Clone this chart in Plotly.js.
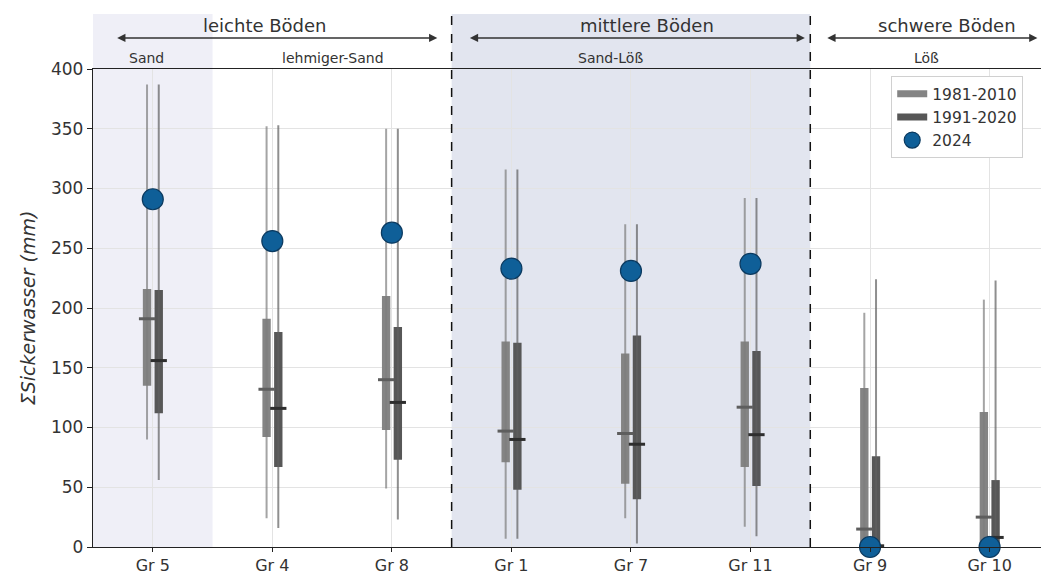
<!DOCTYPE html>
<html>
<head>
<meta charset="utf-8">
<script src="https://cdn.plot.ly/plotly-3.0.1.min.js"></script>
<style>html,body{margin:0;padding:0;background:#fff;} #chart{width:1041px;height:576px;}</style>
</head>
<body>
<div id="chart"></div>
<script>
const categories = ['Gr 5','Gr 4','Gr 8','Gr 1','Gr 7','Gr 11','Gr 9','Gr 10'];
const seriesNames = ['1981-2010','1991-2020','2024'];
// 1981-2010
const p1Min = [90, 24, 49, 7, 24, 17, 0, 0];
const p1Q1  = [135, 92, 98, 71, 53, 67, 0, 0];
const p1Med = [191, 132, 140, 97, 95, 117, 15, 25];
const p1Q3  = [216, 191, 210, 172, 162, 172, 133, 113];
const p1Max = [387, 352, 350, 316, 270, 292, 196, 207];
// 1991-2020
const p2Min = [56, 16, 23, 7, 3, 9, 0, 0];
const p2Q1  = [112, 67, 73, 48, 40, 51, 0, 0];
const p2Med = [156, 116, 121, 90, 86, 94, 1, 8];
const p2Q3  = [215, 180, 184, 171, 177, 164, 76, 56];
const p2Max = [387, 353, 350, 316, 270, 292, 224, 223];
// 2024
const obs2024 = [291, 256, 263, 233, 231, 237, 0, 0];

const soilGroups = ['leichte Böden','mittlere Böden','schwere Böden'];
const soilTypes = ['Sand','lehmiger-Sand','Sand-Löß','Löß'];

const FONT = 'DejaVu Sans, sans-serif';
const idx = categories.map((_, i) => i);
const OFF1 = -0.048, OFF2 = 0.05, BW = 0.07, MW = 0.068;

function whisk(off, lo, hi) {
  const x = [], y = [];
  idx.forEach(i => { x.push(i + off, i + off, null); y.push(lo[i], hi[i], null); });
  return {x, y};
}
function medians(off, med) {
  const x = [], y = [];
  idx.forEach(i => { x.push(i + off - MW, i + off + MW, null); y.push(med[i], med[i], null); });
  return {x, y};
}
const C1 = '#848484', C2 = '#575757';
const w1 = whisk(OFF1, p1Min, p1Max), w2 = whisk(OFF2, p2Min, p2Max);
const m1 = medians(OFF1, p1Med), m2 = medians(OFF2, p2Med);

const traces = [
  {type:'scatter', mode:'lines', x:w1.x, y:w1.y, line:{color:'rgba(125,125,125,0.7)', width:2}, showlegend:false, hoverinfo:'skip'},
  {type:'scatter', mode:'lines', x:w2.x, y:w2.y, line:{color:'rgba(95,95,95,0.7)', width:2}, showlegend:false, hoverinfo:'skip'},
  {type:'bar', x:idx.map(i => i + OFF1), base:p1Q1, y:idx.map(i => p1Q3[i] - p1Q1[i]), width:BW,
   marker:{color:C1, line:{width:0}}, showlegend:false, hoverinfo:'skip'},
  {type:'bar', x:idx.map(i => i + OFF2), base:p2Q1, y:idx.map(i => p2Q3[i] - p2Q1[i]), width:BW,
   marker:{color:C2, line:{width:0}}, showlegend:false, hoverinfo:'skip'},
  {type:'scatter', mode:'lines', x:m1.x, y:m1.y, line:{color:'#5e5e5e', width:3}, showlegend:false, hoverinfo:'skip'},
  {type:'scatter', mode:'lines', x:m2.x, y:m2.y, line:{color:'#2e2e2e', width:3}, showlegend:false, hoverinfo:'skip'},
  {type:'scatter', mode:'lines', x:[null], y:[null], name:seriesNames[0], line:{color:C1, width:7}},
  {type:'scatter', mode:'lines', x:[null], y:[null], name:seriesNames[1], line:{color:C2, width:7}},
  {type:'scatter', mode:'markers', x:idx, y:obs2024, name:seriesNames[2], cliponaxis:false,
   marker:{color:'#0f5f98', size:21, line:{color:'#0b3a60', width:1.2}}}
];

const TOP = 1.115;
const shapes = [
  {type:'rect', xref:'x', yref:'paper', x0:-0.5, x1:0.5, y0:0, y1:TOP, fillcolor:'#efeff7', line:{width:0}, layer:'below'},
  {type:'rect', xref:'x', yref:'paper', x0:2.5, x1:5.5, y0:0, y1:TOP, fillcolor:'#e2e5ef', line:{width:0}, layer:'below'},
  {type:'line', xref:'x', yref:'paper', x0:2.5, x1:2.5, y0:0, y1:TOP, line:{color:'#111', width:1.5, dash:'dash'}},
  {type:'line', xref:'x', yref:'paper', x0:5.5, x1:5.5, y0:0, y1:TOP, line:{color:'#111', width:1.5, dash:'dash'}}
];

function arrow(x0, x1) {
  return {xref:'x', yref:'paper', x:x1, y:1.065, axref:'x', ayref:'pixel', ax:x0, ay:0,
          text:'', showarrow:true, arrowside:'end+start', arrowhead:2, arrowsize:1.1,
          arrowwidth:1.5, arrowcolor:'#333'};
}
function label(txt, x, y, size) {
  return {xref:'x', yref:'paper', x:x, y:y, text:txt, showarrow:false,
          font:{family:FONT, size:size, color:'#333'}, xanchor:'center', yanchor:'middle'};
}
const annotations = [
  arrow(-0.31, 2.38), arrow(2.64, 5.455), arrow(5.63, 7.40),
  label(soilGroups[0], 0.94, 1.092, 18),
  label(soilGroups[1], 4.13, 1.092, 18),
  label(soilGroups[2], 6.64, 1.092, 18),
  label(soilTypes[0], -0.05, 1.023, 14),
  label(soilTypes[1], 1.51, 1.023, 14),
  label(soilTypes[2], 3.83, 1.023, 14),
  label(soilTypes[3], 6.47, 1.023, 14)
];

const layout = {
  width:1041, height:576,
  margin:{l:93, r:0, t:69, b:29},
  paper_bgcolor:'#ffffff', plot_bgcolor:'rgba(0,0,0,0)',
  barmode:'overlay',
  font:{family:FONT, color:'#333'},
  xaxis:{range:[-0.5, 7.43], tickmode:'array', tickvals:idx, ticktext:categories,
         showgrid:true, gridcolor:'#e3e3e3', gridwidth:1, zeroline:false,
         showline:true, linecolor:'#222', linewidth:1.2, mirror:true,
         ticks:'outside', ticklen:4, tickcolor:'#222', tickfont:{family:FONT, size:16, color:'#333'}},
  yaxis:{range:[0, 400], tickmode:'array', tickvals:[0,50,100,150,200,250,300,350,400],
         showgrid:true, gridcolor:'#e3e3e3', gridwidth:1, zeroline:false,
         showline:true, linecolor:'#222', linewidth:1.2,
         ticks:'outside', ticklen:5, tickcolor:'#222', tickfont:{family:FONT, size:17, color:'#333'},
         title:{text:'<i>ΣSickerwasser (mm)</i>', font:{family:FONT, size:19, color:'#333'}, standoff:10}},
  legend:{x:0.842, y:0.985, xanchor:'left', yanchor:'top', bgcolor:'#ffffff',
          bordercolor:'#d0d0d0', borderwidth:1, font:{family:FONT, size:15.5, color:'#333'},
          itemwidth:30},
  shapes:shapes,
  annotations:annotations
};

Plotly.newPlot('chart', traces, layout, {displayModeBar:false, staticPlot:true});
</script>
</body>
</html>
